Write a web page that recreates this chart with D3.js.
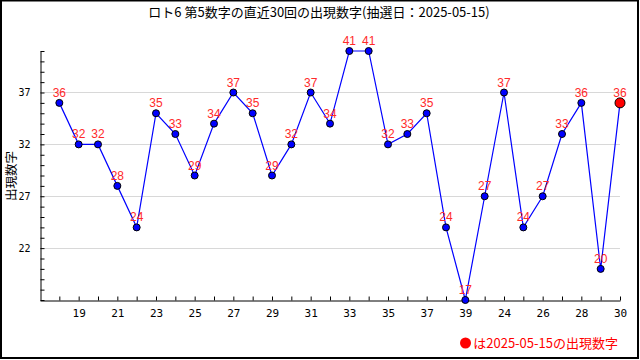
<!DOCTYPE html>
<html><head><meta charset="utf-8">
<script src="https://cdn.jsdelivr.net/npm/d3@7"></script>
<style>
html,body{margin:0;padding:0;background:#fff;}
svg{display:block;}
</style>
</head><body>
<svg id="c" width="640" height="360"></svg>
<script>
const titleText = "ロト6 第5数字の直近30回の出現数字(抽選日：2025-05-15)";
const yTitle = "出現数字";
const legendText = "は2025-05-15の出現数字";
const positions = d3.range(1, 31);
const values = [36,32,32,28,24,35,33,29,34,37,35,29,32,37,34,41,41,32,33,35,24,17,27,37,24,27,33,36,20,36];
const xTickPositions = [2,4,6,8,10,12,14,16,18,20,22,24,26,28,30];
const xTickLabels = ["19","21","23","25","27","29","31","33","35","37","39","24","26","28","30"];
const yLabelValues = [22,27,32,37];

const svg = d3.select("#c");
const jp = "'Noto Sans CJK JP', 'DejaVu Sans', sans-serif";
const mono = "'DejaVu Sans Mono', monospace";

svg.append("rect").attr("x",1).attr("y",0.5).attr("width",637).attr("height",357.5)
  .attr("fill","#fff").attr("stroke","#000").attr("stroke-width",2);

const x = d3.scaleLinear().domain([0,30]).range([40,620]);
const y = d3.scaleLinear().domain([17,41]).range([300,51]);

// grid
svg.append("g").selectAll("line").data(yLabelValues).join("line")
  .attr("x1",x(0)).attr("x2",x(30))
  .attr("y1",d=>Math.round(y(d))+0.5).attr("y2",d=>Math.round(y(d))+0.5)
  .attr("stroke","#d8d8d8").attr("stroke-width",1);

// y axis
const yAxis = d3.axisLeft(y).tickValues(d3.range(17,42))
  .tickFormat(d => yLabelValues.includes(d) ? String(d) : "")
  .tickSizeInner(-4).tickSizeOuter(0).tickPadding(10);
const gy = svg.append("g").attr("transform","translate(40.5,0)").call(yAxis);
gy.selectAll("text").attr("font-family",mono).attr("font-size",10).attr("fill","#000");
gy.selectAll("line,path").attr("stroke","#000");

// x axis
const xAxis = d3.axisBottom(x).tickValues(positions)
  .tickFormat(d => { const i = xTickPositions.indexOf(d); return i >= 0 ? xTickLabels[i] : ""; })
  .tickSizeInner(-4).tickSizeOuter(0).tickPadding(9);
const gx = svg.append("g").attr("transform","translate(0,300.5)").call(xAxis);
gx.selectAll("text").attr("font-family",mono).attr("font-size",11).attr("fill","#000");
gx.selectAll("line,path").attr("stroke","#000");

// line
const line = d3.line().x((d,i)=>x(positions[i])).y(d=>y(d));
svg.append("path").datum(values).attr("d",line)
  .attr("fill","none").attr("stroke","#0000ff").attr("stroke-width",1.2);

// points
svg.append("g").selectAll("circle").data(values).join("circle")
  .attr("cx",(d,i)=>x(positions[i])).attr("cy",d=>y(d))
  .attr("r",(d,i)=> i===values.length-1 ? 5 : 3.5)
  .attr("fill",(d,i)=> i===values.length-1 ? "#ff0000" : "#0000ff")
  .attr("stroke","#000").attr("stroke-width",1);

// value labels
svg.append("g").selectAll("text").data(values).join("text")
  .attr("x",(d,i)=>x(positions[i])).attr("y",d=>y(d)-6)
  .attr("text-anchor","middle").attr("font-family","'Liberation Sans', Arial, sans-serif")
  .attr("font-size",12).attr("fill","#ff2a2a").text(d=>d);

// title
svg.append("text").attr("x",319).attr("y",17).attr("text-anchor","middle")
  .attr("font-family",jp).attr("font-size",13).attr("fill","#000").text(titleText);

// y title
svg.append("text").attr("transform","translate(10.5,176) rotate(-90)").attr("text-anchor","middle")
  .attr("dominant-baseline","central")
  .attr("font-family",jp).attr("font-size",12.5).attr("fill","#000").text(yTitle);

// legend
svg.append("circle").attr("cx",465.5).attr("cy",343).attr("r",5.5).attr("fill","#ff0000");
svg.append("text").attr("x",618).attr("y",348).attr("text-anchor","end")
  .attr("font-family",jp).attr("font-size",13).attr("fill","#ff0000").text(legendText);
</script>
</body></html>
